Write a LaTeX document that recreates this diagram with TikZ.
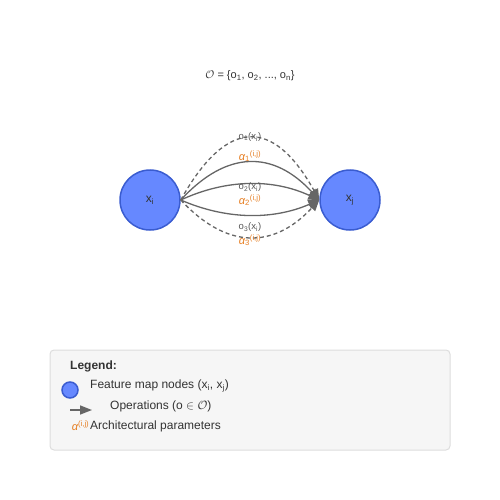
\documentclass[tikz,border=0pt]{standalone}
\usepackage{fontspec}
\setmainfont{Liberation Sans}
\usetikzlibrary{arrows.meta}
\definecolor{nodefill}{HTML}{6688FF}
\definecolor{nodeline}{HTML}{3A5CD0}
\definecolor{edgegray}{HTML}{666666}
\definecolor{labgray}{HTML}{555555}
\definecolor{txt}{HTML}{333333}
\definecolor{alphaor}{HTML}{E67E22}
\definecolor{legfill}{HTML}{F6F6F6}
\definecolor{legline}{HTML}{DDDDDD}
\tikzset{
  fmap/.style={circle, draw=nodeline, fill=nodefill, line width=1.5pt, minimum size=60pt, inner sep=0pt, text=txt, font=\fontsize{12}{14}\selectfont},
  opedge/.style={draw=edgegray, line width=1.3pt, -{Triangle[length=11pt,width=9pt]}},
  dashedge/.style={opedge, dashed, dash pattern=on 4pt off 3pt},
  oplabel/.style={text=labgray, font=\fontsize{9.5}{10}\selectfont, inner sep=0pt, anchor=base},
  alabel/.style={text=alphaor, font=\fontsize{11}{12}\selectfont, inner sep=0pt, anchor=base},
  legtext/.style={text=txt, font=\fontsize{12}{14}\selectfont, anchor=west, inner sep=0pt},
}
\newcommand{\myxi}{x\textsubscript{i}}
\newcommand{\myxj}{x\textsubscript{j}}
\newcommand{\myalpha}[1]{{\itshape α}\textsubscript{#1}\textsuperscript{(i,j)}}
\begin{document}
\begin{tikzpicture}[x=1pt,y=-1pt]
\useasboundingbox (0,0) rectangle (500,500);
% title
\node[text=txt, font=\fontsize{11}{13}\selectfont] (title) at (250,76) {$\mathcal{O}$ = \{o\textsubscript{1}, o\textsubscript{2}, ..., o\textsubscript{n}\}};
% nodes
\node[fmap] (xi) at (150,200) {\myxi};
\node[fmap] (xj) at (350,200) {\myxj};
% edges (quadratic curves)
\draw[dashedge] (xi.east) .. controls (226.7,117.3) and (273.3,117.3) .. (xj.west);
\draw[opedge] (xi.east) .. controls (226.7,150) and (273.3,150) .. (xj.west);
\draw[opedge] (xi.east) .. controls (226.7,178.7) and (273.3,178.7) .. (xj.west);
\draw[opedge] (xi.east) .. controls (226.7,220) and (273.3,220) .. (xj.west);
\draw[dashedge] (xi.east) .. controls (226.7,249.3) and (273.3,249.3) .. (xj.west);
% labels
\node[oplabel] (l1) at (250,139.5) {o\textsubscript{1}(\myxi)};
\node[alabel] (a1) at (250,160) {\myalpha{1}};
\node[oplabel] (l2) at (250,189.5) {o\textsubscript{2}(\myxi)};
\node[alabel] (a2) at (250,204) {\myalpha{2}};
\node[oplabel] (l3) at (250,229.5) {o\textsubscript{3}(\myxi)};
\node[alabel] (a3) at (250,244) {\myalpha{3}};
% legend
\draw[draw=legline, fill=legfill, rounded corners=4pt, line width=1pt] (50,350) rectangle (450,450);
\node[legtext, font=\bfseries\fontsize{12}{14}\selectfont] (lh) at (70,366) {Legend:};
\node[circle, draw=nodeline, fill=nodefill, line width=1.5pt, minimum size=16pt, inner sep=0pt] (lc) at (70,390) {};
\node[legtext] (lt1) at (90,386) {Feature map nodes (\myxi, \myxj)};
\coordinate (la1) at (70,410);
\coordinate (la2) at (92,410);
\draw[draw=edgegray, line width=1.5pt, -{Triangle[length=12pt,width=9pt]}] (la1) -- (la2);
\node[legtext] (lt2) at (110,406) {Operations (o $\in\mathcal{O}$)};
\node[text=alphaor, font=\fontsize{11}{12}\selectfont, anchor=east, inner sep=0pt] (la) at (89.5,426) {{\itshape α}\textsuperscript{(i,j)}};
\node[legtext] (lt3) at (90,426) {Architectural parameters};
\end{tikzpicture}
\end{document}
